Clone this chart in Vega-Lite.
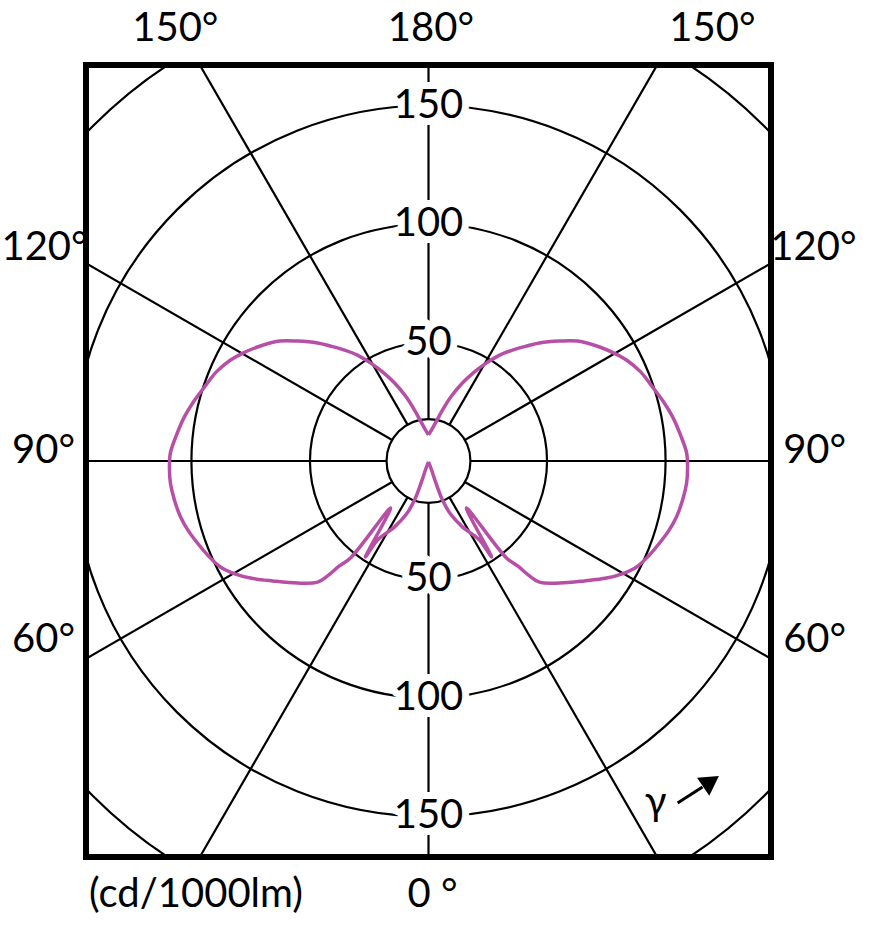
{
  "$schema": "https://vega.github.io/schema/vega-lite/v6.json",
  "width": 685,
  "height": 792,
  "autosize": {"type": "none"},
  "padding": {"left": 86, "top": 65, "right": 99, "bottom": 81},
  "background": "white",
  "datasets": {
    "circles": [{"r": 17.7}, {"r": 50}, {"r": 100}, {"r": 150}, {"r": 200}],
    "rays": [
      {"gamma": 0, "x": 0, "y": -17.7, "x2": 0, "y2": -400},
      {"gamma": 30, "x": 8.85, "y": -15.33, "x2": 200, "y2": -346.4},
      {"gamma": 60, "x": 15.33, "y": -8.85, "x2": 346.4, "y2": -200},
      {"gamma": 90, "x": 17.7, "y": 0, "x2": 400, "y2": 0},
      {"gamma": 120, "x": 15.33, "y": 8.85, "x2": 346.4, "y2": 200},
      {"gamma": 150, "x": 8.85, "y": 15.33, "x2": 200, "y2": 346.4},
      {"gamma": 180, "x": 0, "y": 17.7, "x2": 0, "y2": 400},
      {"gamma": 210, "x": -8.85, "y": 15.33, "x2": -200, "y2": 346.4},
      {"gamma": 240, "x": -15.33, "y": 8.85, "x2": -346.4, "y2": 200},
      {"gamma": 270, "x": -17.7, "y": 0, "x2": -400, "y2": 0},
      {"gamma": 300, "x": -15.33, "y": -8.85, "x2": -346.4, "y2": -200},
      {"gamma": 330, "x": -8.85, "y": -15.33, "x2": -200, "y2": -346.4}
    ],
    "radiusLabels": [
      {"label": "150", "x": 0, "y": 150},
      {"label": "100", "x": 0, "y": 100},
      {"label": "50", "x": 0, "y": 50},
      {"label": "50", "x": 0, "y": -50},
      {"label": "100", "x": 0, "y": -100},
      {"label": "150", "x": 0, "y": -150}
    ],
    "angleLabels": [
      {"label": "150°", "x": -106.8, "y": 182.5},
      {"label": "180°", "x": 1.0, "y": 182.5},
      {"label": "150°", "x": 119.8, "y": 182.5},
      {"label": "120°", "x": -162.0, "y": 89.9},
      {"label": "90°", "x": -162.4, "y": 4.2},
      {"label": "60°", "x": -162.4, "y": -75.5},
      {"label": "120°", "x": 162.4, "y": 89.9},
      {"label": "90°", "x": 162.9, "y": 4.2},
      {"label": "60°", "x": 162.9, "y": -75.5},
      {"label": "(cd/1000lm)", "x": -98.1, "y": -183.1},
      {"label": "0 °", "x": 1.7, "y": -183.1},
      {"label": "γ", "x": 95.8, "y": -144.3}
    ],
    "arrow": [{"x": 105.1, "y": -144.3, "x2": 115.6, "y2": -137.6}],
    "arrowHead": [{"x": 119.2, "y": -135.2}],
    "curve": [
      {"side": "C0", "i": 1, "x": 0, "y": 11.0},
      {"side": "C0", "i": 2, "x": 1.7, "y": 13.9},
      {"side": "C0", "i": 3, "x": 3.8, "y": 17.7},
      {"side": "C0", "i": 4, "x": 5.9, "y": 21.5},
      {"side": "C0", "i": 5, "x": 9.7, "y": 27.4},
      {"side": "C0", "i": 6, "x": 14.3, "y": 32.9},
      {"side": "C0", "i": 7, "x": 19.4, "y": 37.6},
      {"side": "C0", "i": 8, "x": 24.5, "y": 41.4},
      {"side": "C0", "i": 9, "x": 30.0, "y": 44.7},
      {"side": "C0", "i": 10, "x": 35.4, "y": 46.8},
      {"side": "C0", "i": 11, "x": 41.4, "y": 48.5},
      {"side": "C0", "i": 12, "x": 46.8, "y": 49.8},
      {"side": "C0", "i": 13, "x": 55.3, "y": 50.6},
      {"side": "C0", "i": 14, "x": 62.9, "y": 50.6},
      {"side": "C0", "i": 15, "x": 72.2, "y": 48.1},
      {"side": "C0", "i": 16, "x": 78.1, "y": 45.6},
      {"side": "C0", "i": 17, "x": 83.5, "y": 42.6},
      {"side": "C0", "i": 18, "x": 89.5, "y": 37.6},
      {"side": "C0", "i": 19, "x": 94.5, "y": 31.2},
      {"side": "C0", "i": 20, "x": 99.2, "y": 24.9},
      {"side": "C0", "i": 21, "x": 103.0, "y": 18.6},
      {"side": "C0", "i": 22, "x": 106.3, "y": 11.0},
      {"side": "C0", "i": 23, "x": 108.9, "y": 3.4},
      {"side": "C0", "i": 24, "x": 109.3, "y": -3.0},
      {"side": "C0", "i": 25, "x": 108.9, "y": -9.3},
      {"side": "C0", "i": 26, "x": 107.2, "y": -16.5},
      {"side": "C0", "i": 27, "x": 104.6, "y": -23.6},
      {"side": "C0", "i": 28, "x": 101.3, "y": -29.5},
      {"side": "C0", "i": 29, "x": 97.5, "y": -34.6},
      {"side": "C0", "i": 30, "x": 92.8, "y": -40.1},
      {"side": "C0", "i": 31, "x": 87.8, "y": -44.7},
      {"side": "C0", "i": 32, "x": 81.4, "y": -47.7},
      {"side": "C0", "i": 33, "x": 75.1, "y": -49.4},
      {"side": "C0", "i": 34, "x": 65.8, "y": -50.6},
      {"side": "C0", "i": 35, "x": 55.3, "y": -51.5},
      {"side": "C0", "i": 36, "x": 46.8, "y": -51.1},
      {"side": "C0", "i": 37, "x": 42.6, "y": -48.5},
      {"side": "C0", "i": 38, "x": 37.6, "y": -44.3},
      {"side": "C0", "i": 39, "x": 32.9, "y": -40.9},
      {"side": "C0", "i": 40, "x": 16.0, "y": -19.8},
      {"side": "C0", "i": 41, "x": 26.6, "y": -40.5},
      {"side": "C0", "i": 42, "x": 21.5, "y": -33.3},
      {"side": "C0", "i": 43, "x": 14.3, "y": -27.8},
      {"side": "C0", "i": 44, "x": 9.3, "y": -22.4},
      {"side": "C0", "i": 45, "x": 5.9, "y": -16.5},
      {"side": "C0", "i": 46, "x": 3.0, "y": -8.9},
      {"side": "C0", "i": 47, "x": 1.3, "y": -3.8},
      {"side": "C0", "i": 48, "x": 0, "y": -0.4},
      {"side": "C180", "i": 1, "x": 0, "y": 11.0},
      {"side": "C180", "i": 2, "x": -1.7, "y": 13.9},
      {"side": "C180", "i": 3, "x": -3.8, "y": 17.7},
      {"side": "C180", "i": 4, "x": -5.9, "y": 21.5},
      {"side": "C180", "i": 5, "x": -9.7, "y": 27.4},
      {"side": "C180", "i": 6, "x": -14.3, "y": 32.9},
      {"side": "C180", "i": 7, "x": -19.4, "y": 37.6},
      {"side": "C180", "i": 8, "x": -24.5, "y": 41.4},
      {"side": "C180", "i": 9, "x": -30.0, "y": 44.7},
      {"side": "C180", "i": 10, "x": -35.4, "y": 46.8},
      {"side": "C180", "i": 11, "x": -41.4, "y": 48.5},
      {"side": "C180", "i": 12, "x": -46.8, "y": 49.8},
      {"side": "C180", "i": 13, "x": -55.3, "y": 50.6},
      {"side": "C180", "i": 14, "x": -62.9, "y": 50.6},
      {"side": "C180", "i": 15, "x": -72.2, "y": 48.1},
      {"side": "C180", "i": 16, "x": -78.1, "y": 45.6},
      {"side": "C180", "i": 17, "x": -83.5, "y": 42.6},
      {"side": "C180", "i": 18, "x": -89.5, "y": 37.6},
      {"side": "C180", "i": 19, "x": -94.5, "y": 31.2},
      {"side": "C180", "i": 20, "x": -99.2, "y": 24.9},
      {"side": "C180", "i": 21, "x": -103.0, "y": 18.6},
      {"side": "C180", "i": 22, "x": -106.3, "y": 11.0},
      {"side": "C180", "i": 23, "x": -108.9, "y": 3.4},
      {"side": "C180", "i": 24, "x": -109.3, "y": -3.0},
      {"side": "C180", "i": 25, "x": -108.9, "y": -9.3},
      {"side": "C180", "i": 26, "x": -107.2, "y": -16.5},
      {"side": "C180", "i": 27, "x": -104.6, "y": -23.6},
      {"side": "C180", "i": 28, "x": -101.3, "y": -29.5},
      {"side": "C180", "i": 29, "x": -97.5, "y": -34.6},
      {"side": "C180", "i": 30, "x": -92.8, "y": -40.1},
      {"side": "C180", "i": 31, "x": -87.8, "y": -44.7},
      {"side": "C180", "i": 32, "x": -81.4, "y": -47.7},
      {"side": "C180", "i": 33, "x": -75.1, "y": -49.4},
      {"side": "C180", "i": 34, "x": -65.8, "y": -50.6},
      {"side": "C180", "i": 35, "x": -55.3, "y": -51.5},
      {"side": "C180", "i": 36, "x": -46.8, "y": -51.1},
      {"side": "C180", "i": 37, "x": -42.6, "y": -48.5},
      {"side": "C180", "i": 38, "x": -37.6, "y": -44.3},
      {"side": "C180", "i": 39, "x": -32.9, "y": -40.9},
      {"side": "C180", "i": 40, "x": -16.0, "y": -19.8},
      {"side": "C180", "i": 41, "x": -26.6, "y": -40.5},
      {"side": "C180", "i": 42, "x": -21.5, "y": -33.3},
      {"side": "C180", "i": 43, "x": -14.3, "y": -27.8},
      {"side": "C180", "i": 44, "x": -9.3, "y": -22.4},
      {"side": "C180", "i": 45, "x": -5.9, "y": -16.5},
      {"side": "C180", "i": 46, "x": -3.0, "y": -8.9},
      {"side": "C180", "i": 47, "x": -1.3, "y": -3.8},
      {"side": "C180", "i": 48, "x": 0, "y": -0.4}
    ]
  },
  "layer": [
    {
      "data": {"name": "circles"},
      "mark": {"type": "arc", "theta": 6.2832, "filled": false, "stroke": "black", "strokeWidth": 2.2, "clip": true},
      "encoding": {
        "radius": {"field": "r", "type": "quantitative", "stack": null, "scale": {"type": "linear", "domain": [0, 200], "range": [0, 474], "zero": true}}
      }
    },
    {
      "data": {"name": "rays"},
      "mark": {"type": "rule", "color": "black", "strokeWidth": 2.2, "clip": true},
      "encoding": {
        "x": {"field": "x", "type": "quantitative", "scale": {"domain": [-144.5, 144.5], "nice": false, "zero": false}, "axis": null},
        "y": {"field": "y", "type": "quantitative", "scale": {"domain": [-167.1, 167.1], "nice": false, "zero": false}, "axis": null},
        "x2": {"field": "x2"},
        "y2": {"field": "y2"}
      }
    },
    {
      "data": {"name": "radiusLabels"},
      "mark": {"type": "text", "font": "Lato", "fontSize": 40, "baseline": "middle", "align": "center", "color": "white", "stroke": "white", "strokeWidth": 14, "strokeJoin": "round"},
      "encoding": {
        "x": {"field": "x", "type": "quantitative"},
        "y": {"field": "y", "type": "quantitative"},
        "text": {"field": "label"}
      }
    },
    {
      "data": {"name": "radiusLabels"},
      "mark": {"type": "text", "font": "Lato", "fontSize": 40, "baseline": "middle", "align": "center", "color": "black"},
      "encoding": {
        "x": {"field": "x", "type": "quantitative"},
        "y": {"field": "y", "type": "quantitative"},
        "text": {"field": "label"}
      }
    },
    {
      "data": {"name": "curve"},
      "mark": {"type": "line", "color": "#b84fa6", "strokeWidth": 3.5, "strokeJoin": "round", "interpolate": "catmull-rom", "clip": true},
      "encoding": {
        "x": {"field": "x", "type": "quantitative"},
        "y": {"field": "y", "type": "quantitative"},
        "detail": {"field": "side"},
        "order": {"field": "i", "type": "quantitative"}
      }
    },
    {
      "data": {"name": "angleLabels"},
      "mark": {"type": "text", "font": "Lato", "fontSize": 40, "baseline": "middle", "align": "center", "color": "black"},
      "encoding": {
        "x": {"field": "x", "type": "quantitative"},
        "y": {"field": "y", "type": "quantitative"},
        "text": {"field": "label"}
      }
    },
    {
      "data": {"name": "arrow"},
      "mark": {"type": "rule", "color": "black", "strokeWidth": 3},
      "encoding": {
        "x": {"field": "x", "type": "quantitative"},
        "y": {"field": "y", "type": "quantitative"},
        "x2": {"field": "x2"},
        "y2": {"field": "y2"}
      }
    },
    {
      "data": {"name": "arrowHead"},
      "mark": {"type": "point", "shape": "triangle-right", "angle": -34, "size": 480, "filled": true, "color": "black", "opacity": 1},
      "encoding": {
        "x": {"field": "x", "type": "quantitative"},
        "y": {"field": "y", "type": "quantitative"}
      }
    }
  ],
  "config": {
    "view": {"stroke": "black", "strokeWidth": 6}
  }
}
